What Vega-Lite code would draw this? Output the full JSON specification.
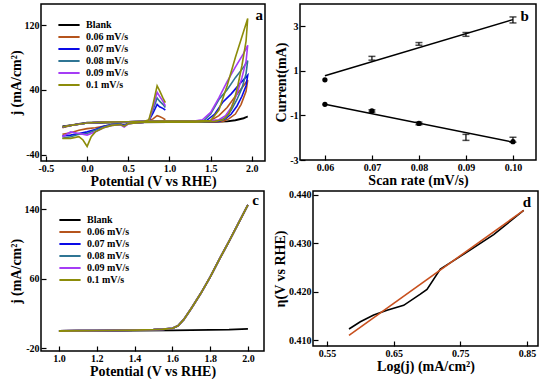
{
  "$schema": "https://vega.github.io/schema/vega-lite/v6.json",
  "background": "white",
  "padding": {"left": 8, "top": 3, "right": 3, "bottom": 0},
  "config": {
    "font": "Liberation Serif",
    "view": {"stroke": "#000", "strokeWidth": 1.5},
    "axis": {
      "labelFont": "Liberation Serif", "labelFontSize": 10, "labelFontWeight": "bold", "labelColor": "#000",
      "titleFont": "Liberation Serif", "titleFontSize": 14, "titleFontWeight": "bold", "titleColor": "#000",
      "domain": false, "tickColor": "#000", "tickWidth": 1.2, "grid": false, "labelPadding": 7, "titlePadding": 1,
      "labelFlush": false, "labelOverlap": false
    },
    "legend": {
      "labelFont": "Liberation Serif", "labelFontSize": 10, "labelFontWeight": "bold", "labelColor": "#000",
      "symbolType": "M-3,0H3", "symbolSize": 50, "symbolStrokeWidth": 2, "labelOffset": 12, "rowPadding": 2
    }
  },
  "datasets": {
    "cv": [
      {"s":"Blank","g":"B","o":1,"x":-0.3,"y":-6},{"s":"Blank","g":"B","o":2,"x":-0.2,"y":-4},{"s":"Blank","g":"B","o":3,"x":-0.1,"y":-2},{"s":"Blank","g":"B","o":4,"x":0,"y":-0.5},{"s":"Blank","g":"B","o":5,"x":0.5,"y":0},{"s":"Blank","g":"B","o":6,"x":1,"y":0},{"s":"Blank","g":"B","o":7,"x":1.5,"y":0.3},{"s":"Blank","g":"B","o":8,"x":1.6,"y":0.5},{"s":"Blank","g":"B","o":9,"x":1.7,"y":1},{"s":"Blank","g":"B","o":10,"x":1.8,"y":2},{"s":"Blank","g":"B","o":11,"x":1.9,"y":4.5},{"s":"Blank","g":"B","o":12,"x":1.95,"y":7},{"s":"Blank","g":"B","o":13,"x":1.9,"y":5},{"s":"Blank","g":"B","o":14,"x":1.8,"y":2.5},{"s":"Blank","g":"B","o":15,"x":1.7,"y":1},{"s":"Blank","g":"B","o":16,"x":1.5,"y":0.3},{"s":"Blank","g":"B","o":17,"x":1,"y":0},{"s":"Blank","g":"B","o":18,"x":0.5,"y":-0.3},{"s":"Blank","g":"B","o":19,"x":0,"y":-1},{"s":"Blank","g":"B","o":20,"x":-0.3,"y":-5},

      {"s":"0.06 mV/s","g":"06m","o":1,"x":-0.3,"y":-7},{"s":"0.06 mV/s","g":"06m","o":2,"x":-0.2,"y":-4},{"s":"0.06 mV/s","g":"06m","o":3,"x":-0.1,"y":-2.5},{"s":"0.06 mV/s","g":"06m","o":4,"x":0,"y":-1},{"s":"0.06 mV/s","g":"06m","o":5,"x":0.2,"y":0},{"s":"0.06 mV/s","g":"06m","o":6,"x":0.5,"y":0.5},{"s":"0.06 mV/s","g":"06m","o":7,"x":0.7,"y":1},{"s":"0.06 mV/s","g":"06m","o":8,"x":0.9,"y":1.5},{"s":"0.06 mV/s","g":"06m","o":9,"x":1.1,"y":1.5},{"s":"0.06 mV/s","g":"06m","o":10,"x":1.3,"y":1.5},{"s":"0.06 mV/s","g":"06m","o":11,"x":1.5,"y":2},{"s":"0.06 mV/s","g":"06m","o":12,"x":1.6,"y":8},{"s":"0.06 mV/s","g":"06m","o":13,"x":1.7,"y":18},{"s":"0.06 mV/s","g":"06m","o":14,"x":1.8,"y":32},{"s":"0.06 mV/s","g":"06m","o":15,"x":1.9,"y":45},{"s":"0.06 mV/s","g":"06m","o":16,"x":1.95,"y":52},{"s":"0.06 mV/s","g":"06m","o":17,"x":1.93,"y":38},{"s":"0.06 mV/s","g":"06m","o":18,"x":1.87,"y":22},{"s":"0.06 mV/s","g":"06m","o":19,"x":1.8,"y":10},{"s":"0.06 mV/s","g":"06m","o":20,"x":1.72,"y":4},{"s":"0.06 mV/s","g":"06m","o":21,"x":1.65,"y":1},{"s":"0.06 mV/s","g":"06m","o":22,"x":1.5,"y":0},{"s":"0.06 mV/s","g":"06m","o":23,"x":1.3,"y":0},{"s":"0.06 mV/s","g":"06m","o":24,"x":1,"y":0},{"s":"0.06 mV/s","g":"06m","o":25,"x":0.7,"y":0},{"s":"0.06 mV/s","g":"06m","o":26,"x":0.6,"y":-1},{"s":"0.06 mV/s","g":"06m","o":27,"x":0.5,"y":-1.5},{"s":"0.06 mV/s","g":"06m","o":28,"x":0.45,"y":-4},{"s":"0.06 mV/s","g":"06m","o":29,"x":0.4,"y":-2.5},{"s":"0.06 mV/s","g":"06m","o":30,"x":0.3,"y":-3},{"s":"0.06 mV/s","g":"06m","o":31,"x":0.2,"y":-5},{"s":"0.06 mV/s","g":"06m","o":32,"x":0.1,"y":-7},{"s":"0.06 mV/s","g":"06m","o":33,"x":0,"y":-8},{"s":"0.06 mV/s","g":"06m","o":34,"x":-0.1,"y":-10},{"s":"0.06 mV/s","g":"06m","o":35,"x":-0.2,"y":-13},{"s":"0.06 mV/s","g":"06m","o":36,"x":-0.3,"y":-15},
      {"s":"0.06 mV/s","g":"06p","o":1,"x":0.7,"y":1},{"s":"0.06 mV/s","g":"06p","o":2,"x":0.75,"y":2},{"s":"0.06 mV/s","g":"06p","o":3,"x":0.8,"y":4},{"s":"0.06 mV/s","g":"06p","o":4,"x":0.85,"y":8},{"s":"0.06 mV/s","g":"06p","o":5,"x":0.88,"y":7},{"s":"0.06 mV/s","g":"06p","o":6,"x":0.92,"y":5},{"s":"0.06 mV/s","g":"06p","o":7,"x":0.95,"y":3},

      {"s":"0.07 mV/s","g":"07m","o":1,"x":-0.3,"y":-6},{"s":"0.07 mV/s","g":"07m","o":2,"x":-0.2,"y":-4},{"s":"0.07 mV/s","g":"07m","o":3,"x":-0.1,"y":-2.5},{"s":"0.07 mV/s","g":"07m","o":4,"x":0,"y":-1},{"s":"0.07 mV/s","g":"07m","o":5,"x":0.2,"y":0},{"s":"0.07 mV/s","g":"07m","o":6,"x":0.5,"y":0.5},{"s":"0.07 mV/s","g":"07m","o":7,"x":0.7,"y":1},{"s":"0.07 mV/s","g":"07m","o":8,"x":0.9,"y":1.5},{"s":"0.07 mV/s","g":"07m","o":9,"x":1.1,"y":1.5},{"s":"0.07 mV/s","g":"07m","o":10,"x":1.3,"y":1.5},{"s":"0.07 mV/s","g":"07m","o":11,"x":1.45,"y":2},{"s":"0.07 mV/s","g":"07m","o":12,"x":1.55,"y":10},{"s":"0.07 mV/s","g":"07m","o":13,"x":1.65,"y":25},{"s":"0.07 mV/s","g":"07m","o":14,"x":1.75,"y":35},{"s":"0.07 mV/s","g":"07m","o":15,"x":1.85,"y":47},{"s":"0.07 mV/s","g":"07m","o":16,"x":1.95,"y":58},{"s":"0.07 mV/s","g":"07m","o":17,"x":1.93,"y":45},{"s":"0.07 mV/s","g":"07m","o":18,"x":1.88,"y":32},{"s":"0.07 mV/s","g":"07m","o":19,"x":1.82,"y":20},{"s":"0.07 mV/s","g":"07m","o":20,"x":1.75,"y":10},{"s":"0.07 mV/s","g":"07m","o":21,"x":1.68,"y":4},{"s":"0.07 mV/s","g":"07m","o":22,"x":1.6,"y":1},{"s":"0.07 mV/s","g":"07m","o":23,"x":1.3,"y":0},{"s":"0.07 mV/s","g":"07m","o":24,"x":1,"y":0},{"s":"0.07 mV/s","g":"07m","o":25,"x":0.7,"y":0},{"s":"0.07 mV/s","g":"07m","o":26,"x":0.6,"y":-1},{"s":"0.07 mV/s","g":"07m","o":27,"x":0.5,"y":-1.5},{"s":"0.07 mV/s","g":"07m","o":28,"x":0.45,"y":-4},{"s":"0.07 mV/s","g":"07m","o":29,"x":0.4,"y":-2.5},{"s":"0.07 mV/s","g":"07m","o":30,"x":0.3,"y":-3},{"s":"0.07 mV/s","g":"07m","o":31,"x":0.2,"y":-5},{"s":"0.07 mV/s","g":"07m","o":32,"x":0.1,"y":-9},{"s":"0.07 mV/s","g":"07m","o":33,"x":0,"y":-12},{"s":"0.07 mV/s","g":"07m","o":34,"x":-0.1,"y":-14},{"s":"0.07 mV/s","g":"07m","o":35,"x":-0.2,"y":-16},{"s":"0.07 mV/s","g":"07m","o":36,"x":-0.3,"y":-17},
      {"s":"0.07 mV/s","g":"07p","o":1,"x":0.7,"y":1},{"s":"0.07 mV/s","g":"07p","o":2,"x":0.75,"y":2},{"s":"0.07 mV/s","g":"07p","o":3,"x":0.8,"y":11},{"s":"0.07 mV/s","g":"07p","o":4,"x":0.85,"y":22},{"s":"0.07 mV/s","g":"07p","o":5,"x":0.88,"y":19},{"s":"0.07 mV/s","g":"07p","o":6,"x":0.92,"y":17},{"s":"0.07 mV/s","g":"07p","o":7,"x":0.95,"y":15},

      {"s":"0.08 mV/s","g":"08m","o":1,"x":-0.3,"y":-6},{"s":"0.08 mV/s","g":"08m","o":2,"x":-0.2,"y":-4},{"s":"0.08 mV/s","g":"08m","o":3,"x":-0.1,"y":-2.5},{"s":"0.08 mV/s","g":"08m","o":4,"x":0,"y":-1},{"s":"0.08 mV/s","g":"08m","o":5,"x":0.2,"y":0},{"s":"0.08 mV/s","g":"08m","o":6,"x":0.5,"y":0.5},{"s":"0.08 mV/s","g":"08m","o":7,"x":0.7,"y":1},{"s":"0.08 mV/s","g":"08m","o":8,"x":0.9,"y":1.5},{"s":"0.08 mV/s","g":"08m","o":9,"x":1.1,"y":1.5},{"s":"0.08 mV/s","g":"08m","o":10,"x":1.3,"y":1.5},{"s":"0.08 mV/s","g":"08m","o":11,"x":1.42,"y":2},{"s":"0.08 mV/s","g":"08m","o":12,"x":1.5,"y":10},{"s":"0.08 mV/s","g":"08m","o":13,"x":1.6,"y":28},{"s":"0.08 mV/s","g":"08m","o":14,"x":1.7,"y":40},{"s":"0.08 mV/s","g":"08m","o":15,"x":1.8,"y":55},{"s":"0.08 mV/s","g":"08m","o":16,"x":1.9,"y":68},{"s":"0.08 mV/s","g":"08m","o":17,"x":1.95,"y":76},{"s":"0.08 mV/s","g":"08m","o":18,"x":1.93,"y":60},{"s":"0.08 mV/s","g":"08m","o":19,"x":1.88,"y":42},{"s":"0.08 mV/s","g":"08m","o":20,"x":1.82,"y":28},{"s":"0.08 mV/s","g":"08m","o":21,"x":1.75,"y":15},{"s":"0.08 mV/s","g":"08m","o":22,"x":1.68,"y":5},{"s":"0.08 mV/s","g":"08m","o":23,"x":1.6,"y":2},{"s":"0.08 mV/s","g":"08m","o":24,"x":1.3,"y":0},{"s":"0.08 mV/s","g":"08m","o":25,"x":1,"y":0},{"s":"0.08 mV/s","g":"08m","o":26,"x":0.7,"y":0},{"s":"0.08 mV/s","g":"08m","o":27,"x":0.6,"y":-1},{"s":"0.08 mV/s","g":"08m","o":28,"x":0.5,"y":-1.5},{"s":"0.08 mV/s","g":"08m","o":29,"x":0.45,"y":-5},{"s":"0.08 mV/s","g":"08m","o":30,"x":0.4,"y":-2.5},{"s":"0.08 mV/s","g":"08m","o":31,"x":0.3,"y":-3},{"s":"0.08 mV/s","g":"08m","o":32,"x":0.2,"y":-6},{"s":"0.08 mV/s","g":"08m","o":33,"x":0.1,"y":-10},{"s":"0.08 mV/s","g":"08m","o":34,"x":0,"y":-14},{"s":"0.08 mV/s","g":"08m","o":35,"x":-0.1,"y":-15},{"s":"0.08 mV/s","g":"08m","o":36,"x":-0.2,"y":-18},{"s":"0.08 mV/s","g":"08m","o":37,"x":-0.3,"y":-20},
      {"s":"0.08 mV/s","g":"08p","o":1,"x":0.7,"y":1},{"s":"0.08 mV/s","g":"08p","o":2,"x":0.75,"y":2},{"s":"0.08 mV/s","g":"08p","o":3,"x":0.8,"y":15},{"s":"0.08 mV/s","g":"08p","o":4,"x":0.85,"y":30},{"s":"0.08 mV/s","g":"08p","o":5,"x":0.88,"y":26},{"s":"0.08 mV/s","g":"08p","o":6,"x":0.92,"y":22},{"s":"0.08 mV/s","g":"08p","o":7,"x":0.95,"y":18},

      {"s":"0.09 mV/s","g":"09m","o":1,"x":-0.3,"y":-6},{"s":"0.09 mV/s","g":"09m","o":2,"x":-0.2,"y":-4},{"s":"0.09 mV/s","g":"09m","o":3,"x":-0.1,"y":-2.5},{"s":"0.09 mV/s","g":"09m","o":4,"x":0,"y":-1},{"s":"0.09 mV/s","g":"09m","o":5,"x":0.2,"y":0},{"s":"0.09 mV/s","g":"09m","o":6,"x":0.5,"y":0.5},{"s":"0.09 mV/s","g":"09m","o":7,"x":0.7,"y":1},{"s":"0.09 mV/s","g":"09m","o":8,"x":0.9,"y":1.5},{"s":"0.09 mV/s","g":"09m","o":9,"x":1.1,"y":1.5},{"s":"0.09 mV/s","g":"09m","o":10,"x":1.3,"y":1.5},{"s":"0.09 mV/s","g":"09m","o":11,"x":1.4,"y":3},{"s":"0.09 mV/s","g":"09m","o":12,"x":1.5,"y":12},{"s":"0.09 mV/s","g":"09m","o":13,"x":1.6,"y":30},{"s":"0.09 mV/s","g":"09m","o":14,"x":1.7,"y":50},{"s":"0.09 mV/s","g":"09m","o":15,"x":1.8,"y":68},{"s":"0.09 mV/s","g":"09m","o":16,"x":1.9,"y":85},{"s":"0.09 mV/s","g":"09m","o":17,"x":1.95,"y":95},{"s":"0.09 mV/s","g":"09m","o":18,"x":1.93,"y":75},{"s":"0.09 mV/s","g":"09m","o":19,"x":1.88,"y":55},{"s":"0.09 mV/s","g":"09m","o":20,"x":1.82,"y":35},{"s":"0.09 mV/s","g":"09m","o":21,"x":1.75,"y":18},{"s":"0.09 mV/s","g":"09m","o":22,"x":1.68,"y":8},{"s":"0.09 mV/s","g":"09m","o":23,"x":1.6,"y":3},{"s":"0.09 mV/s","g":"09m","o":24,"x":1.3,"y":0},{"s":"0.09 mV/s","g":"09m","o":25,"x":1,"y":0},{"s":"0.09 mV/s","g":"09m","o":26,"x":0.7,"y":0},{"s":"0.09 mV/s","g":"09m","o":27,"x":0.6,"y":-1},{"s":"0.09 mV/s","g":"09m","o":28,"x":0.5,"y":-2},{"s":"0.09 mV/s","g":"09m","o":29,"x":0.45,"y":-6},{"s":"0.09 mV/s","g":"09m","o":30,"x":0.4,"y":-3},{"s":"0.09 mV/s","g":"09m","o":31,"x":0.3,"y":-4},{"s":"0.09 mV/s","g":"09m","o":32,"x":0.2,"y":-7},{"s":"0.09 mV/s","g":"09m","o":33,"x":0.1,"y":-12},{"s":"0.09 mV/s","g":"09m","o":34,"x":0,"y":-16},{"s":"0.09 mV/s","g":"09m","o":35,"x":-0.1,"y":-14},{"s":"0.09 mV/s","g":"09m","o":36,"x":-0.2,"y":-12},{"s":"0.09 mV/s","g":"09m","o":37,"x":-0.3,"y":-18},
      {"s":"0.09 mV/s","g":"09p","o":1,"x":0.7,"y":1},{"s":"0.09 mV/s","g":"09p","o":2,"x":0.75,"y":2},{"s":"0.09 mV/s","g":"09p","o":3,"x":0.8,"y":18},{"s":"0.09 mV/s","g":"09p","o":4,"x":0.85,"y":37},{"s":"0.09 mV/s","g":"09p","o":5,"x":0.88,"y":32},{"s":"0.09 mV/s","g":"09p","o":6,"x":0.92,"y":26},{"s":"0.09 mV/s","g":"09p","o":7,"x":0.95,"y":20},

      {"s":"0.1 mV/s","g":"10m","o":1,"x":-0.3,"y":-6},{"s":"0.1 mV/s","g":"10m","o":2,"x":-0.2,"y":-4},{"s":"0.1 mV/s","g":"10m","o":3,"x":-0.1,"y":-2.5},{"s":"0.1 mV/s","g":"10m","o":4,"x":0,"y":-1},{"s":"0.1 mV/s","g":"10m","o":5,"x":0.2,"y":0},{"s":"0.1 mV/s","g":"10m","o":6,"x":0.5,"y":0.5},{"s":"0.1 mV/s","g":"10m","o":7,"x":0.7,"y":1},{"s":"0.1 mV/s","g":"10m","o":8,"x":0.9,"y":1.5},{"s":"0.1 mV/s","g":"10m","o":9,"x":1.1,"y":1.5},{"s":"0.1 mV/s","g":"10m","o":10,"x":1.3,"y":1.5},{"s":"0.1 mV/s","g":"10m","o":11,"x":1.5,"y":2},{"s":"0.1 mV/s","g":"10m","o":12,"x":1.6,"y":15},{"s":"0.1 mV/s","g":"10m","o":13,"x":1.7,"y":45},{"s":"0.1 mV/s","g":"10m","o":14,"x":1.8,"y":80},{"s":"0.1 mV/s","g":"10m","o":15,"x":1.9,"y":112},{"s":"0.1 mV/s","g":"10m","o":16,"x":1.95,"y":128},{"s":"0.1 mV/s","g":"10m","o":17,"x":1.93,"y":100},{"s":"0.1 mV/s","g":"10m","o":18,"x":1.88,"y":70},{"s":"0.1 mV/s","g":"10m","o":19,"x":1.83,"y":45},{"s":"0.1 mV/s","g":"10m","o":20,"x":1.78,"y":25},{"s":"0.1 mV/s","g":"10m","o":21,"x":1.72,"y":10},{"s":"0.1 mV/s","g":"10m","o":22,"x":1.65,"y":3},{"s":"0.1 mV/s","g":"10m","o":23,"x":1.55,"y":1},{"s":"0.1 mV/s","g":"10m","o":24,"x":1.3,"y":0},{"s":"0.1 mV/s","g":"10m","o":25,"x":1,"y":0},{"s":"0.1 mV/s","g":"10m","o":26,"x":0.7,"y":0},{"s":"0.1 mV/s","g":"10m","o":27,"x":0.6,"y":-1},{"s":"0.1 mV/s","g":"10m","o":28,"x":0.5,"y":-2},{"s":"0.1 mV/s","g":"10m","o":29,"x":0.45,"y":-5},{"s":"0.1 mV/s","g":"10m","o":30,"x":0.4,"y":-3},{"s":"0.1 mV/s","g":"10m","o":31,"x":0.3,"y":-4},{"s":"0.1 mV/s","g":"10m","o":32,"x":0.2,"y":-7},{"s":"0.1 mV/s","g":"10m","o":33,"x":0.1,"y":-12},{"s":"0.1 mV/s","g":"10m","o":34,"x":0.05,"y":-18},{"s":"0.1 mV/s","g":"10m","o":35,"x":0,"y":-30},{"s":"0.1 mV/s","g":"10m","o":36,"x":-0.05,"y":-22},{"s":"0.1 mV/s","g":"10m","o":37,"x":-0.1,"y":-18},{"s":"0.1 mV/s","g":"10m","o":38,"x":-0.2,"y":-20},{"s":"0.1 mV/s","g":"10m","o":39,"x":-0.3,"y":-20},
      {"s":"0.1 mV/s","g":"10p","o":1,"x":0.7,"y":1},{"s":"0.1 mV/s","g":"10p","o":2,"x":0.75,"y":3},{"s":"0.1 mV/s","g":"10p","o":3,"x":0.8,"y":22},{"s":"0.1 mV/s","g":"10p","o":4,"x":0.85,"y":45},{"s":"0.1 mV/s","g":"10p","o":5,"x":0.88,"y":39},{"s":"0.1 mV/s","g":"10p","o":6,"x":0.92,"y":30},{"s":"0.1 mV/s","g":"10p","o":7,"x":0.95,"y":24}
    ],
    "bfit": [
      {"grp":"anodic","x":0.06,"y":0.78},{"grp":"anodic","x":0.10,"y":3.3},
      {"grp":"cathodic","x":0.06,"y":-0.5},{"grp":"cathodic","x":0.10,"y":-2.2}
    ],
    "berr": [
      {"x":0.07,"lo":1.48,"hi":1.65},{"x":0.08,"lo":2.15,"hi":2.27},{"x":0.09,"lo":2.55,"hi":2.72},{"x":0.10,"lo":3.15,"hi":3.42},
      {"x":0.07,"lo":-0.85,"hi":-0.75},{"x":0.08,"lo":-1.42,"hi":-1.3},{"x":0.09,"lo":-2.12,"hi":-1.85},{"x":0.10,"lo":-2.2,"hi":-1.98}
    ],
    "bpts": [
      {"x":0.06,"y":0.6},{"x":0.06,"y":-0.5},{"x":0.07,"y":-0.8},{"x":0.08,"y":-1.36},{"x":0.10,"y":-2.18}
    ],
    "lsv": [
      {"s":"Blank","x":1.0,"y":0},{"s":"Blank","x":1.2,"y":0.3},{"s":"Blank","x":1.4,"y":0.5},{"s":"Blank","x":1.6,"y":0.8},{"s":"Blank","x":1.8,"y":1.2},{"s":"Blank","x":1.9,"y":1.6},{"s":"Blank","x":2.0,"y":2.5},
      {"s":"0.06 mV/s","x":1.0,"y":0},{"s":"0.06 mV/s","x":1.1,"y":0.3},{"s":"0.06 mV/s","x":1.2,"y":0.5},{"s":"0.06 mV/s","x":1.3,"y":0.8},{"s":"0.06 mV/s","x":1.4,"y":1},{"s":"0.06 mV/s","x":1.5,"y":1.5},{"s":"0.06 mV/s","x":1.55,"y":2},{"s":"0.06 mV/s","x":1.6,"y":3},{"s":"0.06 mV/s","x":1.63,"y":6},{"s":"0.06 mV/s","x":1.66,"y":13},{"s":"0.06 mV/s","x":1.7,"y":26},{"s":"0.06 mV/s","x":1.75,"y":43},{"s":"0.06 mV/s","x":1.8,"y":62},{"s":"0.06 mV/s","x":1.85,"y":83},{"s":"0.06 mV/s","x":1.9,"y":103},{"s":"0.06 mV/s","x":1.95,"y":124},{"s":"0.06 mV/s","x":2.0,"y":145},
      {"s":"0.07 mV/s","x":1.0,"y":0},{"s":"0.07 mV/s","x":1.1,"y":0.3},{"s":"0.07 mV/s","x":1.2,"y":0.5},{"s":"0.07 mV/s","x":1.3,"y":0.8},{"s":"0.07 mV/s","x":1.4,"y":1},{"s":"0.07 mV/s","x":1.5,"y":1.5},{"s":"0.07 mV/s","x":1.55,"y":2},{"s":"0.07 mV/s","x":1.6,"y":3},{"s":"0.07 mV/s","x":1.63,"y":6},{"s":"0.07 mV/s","x":1.66,"y":13},{"s":"0.07 mV/s","x":1.7,"y":26},{"s":"0.07 mV/s","x":1.75,"y":43},{"s":"0.07 mV/s","x":1.8,"y":62},{"s":"0.07 mV/s","x":1.85,"y":83},{"s":"0.07 mV/s","x":1.9,"y":103},{"s":"0.07 mV/s","x":1.95,"y":124},{"s":"0.07 mV/s","x":2.0,"y":145},
      {"s":"0.08 mV/s","x":1.0,"y":0},{"s":"0.08 mV/s","x":1.1,"y":0.3},{"s":"0.08 mV/s","x":1.2,"y":0.5},{"s":"0.08 mV/s","x":1.3,"y":0.8},{"s":"0.08 mV/s","x":1.4,"y":1},{"s":"0.08 mV/s","x":1.5,"y":1.5},{"s":"0.08 mV/s","x":1.55,"y":2},{"s":"0.08 mV/s","x":1.6,"y":3},{"s":"0.08 mV/s","x":1.63,"y":6},{"s":"0.08 mV/s","x":1.66,"y":13},{"s":"0.08 mV/s","x":1.7,"y":26},{"s":"0.08 mV/s","x":1.75,"y":43},{"s":"0.08 mV/s","x":1.8,"y":62},{"s":"0.08 mV/s","x":1.85,"y":83},{"s":"0.08 mV/s","x":1.9,"y":103},{"s":"0.08 mV/s","x":1.95,"y":124},{"s":"0.08 mV/s","x":2.0,"y":145},
      {"s":"0.09 mV/s","x":1.0,"y":0},{"s":"0.09 mV/s","x":1.1,"y":0.3},{"s":"0.09 mV/s","x":1.2,"y":0.5},{"s":"0.09 mV/s","x":1.3,"y":0.8},{"s":"0.09 mV/s","x":1.4,"y":1},{"s":"0.09 mV/s","x":1.5,"y":1.5},{"s":"0.09 mV/s","x":1.55,"y":2},{"s":"0.09 mV/s","x":1.6,"y":3},{"s":"0.09 mV/s","x":1.63,"y":6},{"s":"0.09 mV/s","x":1.66,"y":13},{"s":"0.09 mV/s","x":1.7,"y":26},{"s":"0.09 mV/s","x":1.75,"y":43},{"s":"0.09 mV/s","x":1.8,"y":62},{"s":"0.09 mV/s","x":1.85,"y":83},{"s":"0.09 mV/s","x":1.9,"y":103},{"s":"0.09 mV/s","x":1.95,"y":124},{"s":"0.09 mV/s","x":2.0,"y":145},
      {"s":"0.1 mV/s","x":1.0,"y":0},{"s":"0.1 mV/s","x":1.1,"y":0.3},{"s":"0.1 mV/s","x":1.2,"y":0.5},{"s":"0.1 mV/s","x":1.3,"y":0.8},{"s":"0.1 mV/s","x":1.4,"y":1},{"s":"0.1 mV/s","x":1.5,"y":1.5},{"s":"0.1 mV/s","x":1.55,"y":2},{"s":"0.1 mV/s","x":1.6,"y":3},{"s":"0.1 mV/s","x":1.63,"y":6},{"s":"0.1 mV/s","x":1.66,"y":13},{"s":"0.1 mV/s","x":1.7,"y":26},{"s":"0.1 mV/s","x":1.75,"y":43},{"s":"0.1 mV/s","x":1.8,"y":62},{"s":"0.1 mV/s","x":1.85,"y":83},{"s":"0.1 mV/s","x":1.9,"y":103},{"s":"0.1 mV/s","x":1.95,"y":124},{"s":"0.1 mV/s","x":2.0,"y":145}
    ],
    "tafel": [
      {"x":0.583,"y":0.4123},{"x":0.60,"y":0.4138},{"x":0.62,"y":0.4152},{"x":0.64,"y":0.4162},{"x":0.665,"y":0.4172},{"x":0.69,"y":0.4195},{"x":0.70,"y":0.4205},{"x":0.72,"y":0.4247},{"x":0.75,"y":0.4273},{"x":0.80,"y":0.4318},{"x":0.845,"y":0.4368}
    ],
    "tafelfit": [
      {"x":0.583,"y":0.4110},{"x":0.845,"y":0.4368}
    ]
  },
  "spacing": 0,
  "resolve": {"scale": {"color": "independent"}},
  "vconcat": [
    {
      "spacing": 7,
      "resolve": {"scale": {"color": "independent"}},
      "hconcat": [
        {
          "width": 224, "height": 157,
          "layer": [
            {
              "data": {"name": "cv"},
              "mark": {"type": "line", "strokeWidth": 1.6},
              "encoding": {
                "x": {"field": "x", "type": "quantitative",
                  "scale": {"domain": [-0.56, 2.16], "nice": false, "zero": false},
                  "axis": {"title": "Potential (V vs RHE)", "labelOverlap": false, "values": [-0.5,-0.25,0,0.25,0.5,0.75,1,1.25,1.5,1.75,2],
                    "labelExpr": "round(datum.value*4)%2 ? '' : (datum.value<0?'-':'') + format(abs(datum.value),'.1f')",
                    "tickSize": {"condition": {"test": "round(datum.value*4)%2", "value": -2.5}, "value": -5}}},
                "y": {"field": "y", "type": "quantitative",
                  "scale": {"domain": [-48, 146], "nice": false, "zero": false},
                  "axis": {"title": "j (mA/cm²)", "labelOverlap": false, "values": [-40,-30,-20,-10,0,10,20,30,40,50,60,70,80,90,100,110,120,130,140],
                    "labelExpr": "datum.value%20 ? '' : (datum.value<0?'-':'') + abs(datum.value)",
                    "tickSize": {"condition": {"test": "datum.value%20", "value": -2.5}, "value": -5}}},
                "color": {"field": "s", "type": "nominal",
                  "scale": {"domain": ["Blank","0.06 mV/s","0.07 mV/s","0.08 mV/s","0.09 mV/s","0.1 mV/s"],
                            "range": ["#000000","#b5541c","#0a0ae6","#2f7594","#a53cf5","#8c8c0a"]},
                  "legend": {"title": null, "orient": "none", "legendX": 23, "legendY": 16}},
                "detail": {"field": "g"},
                "order": {"field": "o", "type": "quantitative"}
              }
            },
            {
              "data": {"values": [{"t": "a", "x": 2.09, "y": 133}]},
              "mark": {"type": "text", "fontSize": 15, "fontWeight": "bold", "font": "Liberation Serif", "color": "#000"},
              "encoding": {"x": {"field": "x", "type": "quantitative", "axis": {"labelOverlap": false}}, "y": {"field": "y", "type": "quantitative", "axis": {"labelOverlap": false}}, "text": {"field": "t"}}
            }
          ]
        },
        {
          "width": 236, "height": 156,
          "layer": [
            {
              "data": {"name": "bfit"},
              "mark": {"type": "line", "color": "#000", "strokeWidth": 1.5},
              "encoding": {
                "x": {"field": "x", "type": "quantitative",
                  "scale": {"domain": [0.0547, 0.1049], "nice": false, "zero": false},
                  "axis": {"title": "Scan rate (mV/s)", "labelOverlap": false, "values": [0.06,0.065,0.07,0.075,0.08,0.085,0.09,0.095,0.1],
                    "labelExpr": "round(datum.value*200)%2 ? '' : format(datum.value,'.2f')",
                    "tickSize": {"condition": {"test": "round(datum.value*200)%2", "value": -2.5}, "value": -5}}},
                "y": {"field": "y", "type": "quantitative",
                  "scale": {"domain": [-3, 4], "nice": false, "zero": false},
                  "axis": {"title": "Current(mA)", "labelOverlap": false, "values": [-3,-2.5,-2,-1.5,-1,-0.5,0,0.5,1,1.5,2,2.5,3,3.5,4],
                    "labelExpr": "round(datum.value*2)%2 ? '' : (datum.value<0?'-':'') + abs(datum.value)",
                    "tickSize": {"condition": {"test": "round(datum.value*2)%2", "value": -2.5}, "value": -5}}},
                "detail": {"field": "grp"}
              }
            },
            {
              "data": {"name": "berr"},
              "mark": {"type": "rule", "color": "#000", "strokeWidth": 1.2},
              "encoding": {"x": {"field": "x", "type": "quantitative", "axis": {"labelOverlap": false}}, "y": {"field": "lo", "type": "quantitative", "axis": {"labelOverlap": false}}, "y2": {"field": "hi"}}
            },
            {
              "data": {"name": "berr"},
              "mark": {"type": "tick", "orient": "horizontal", "color": "#000", "size": 7, "thickness": 1.5},
              "encoding": {"x": {"field": "x", "type": "quantitative", "axis": {"labelOverlap": false}}, "y": {"field": "lo", "type": "quantitative", "axis": {"labelOverlap": false}}}
            },
            {
              "data": {"name": "berr"},
              "mark": {"type": "tick", "orient": "horizontal", "color": "#000", "size": 7, "thickness": 1.5},
              "encoding": {"x": {"field": "x", "type": "quantitative", "axis": {"labelOverlap": false}}, "y": {"field": "hi", "type": "quantitative", "axis": {"labelOverlap": false}}}
            },
            {
              "data": {"name": "bpts"},
              "mark": {"type": "circle", "color": "#000", "size": 28, "opacity": 1},
              "encoding": {"x": {"field": "x", "type": "quantitative", "axis": {"labelOverlap": false}}, "y": {"field": "y", "type": "quantitative", "axis": {"labelOverlap": false}}}
            },
            {
              "data": {"values": [{"t": "b", "x": 0.1025, "y": 3.45}]},
              "mark": {"type": "text", "fontSize": 15, "fontWeight": "bold", "font": "Liberation Serif", "color": "#000"},
              "encoding": {"x": {"field": "x", "type": "quantitative", "axis": {"labelOverlap": false}}, "y": {"field": "y", "type": "quantitative", "axis": {"labelOverlap": false}}, "text": {"field": "t"}}
            }
          ]
        }
      ]
    },
    {
      "spacing": 7,
      "resolve": {"scale": {"color": "independent"}},
      "hconcat": [
        {
          "width": 223, "height": 160,
          "layer": [
            {
              "data": {"name": "lsv"},
              "mark": {"type": "line", "strokeWidth": 1.8},
              "encoding": {
                "x": {"field": "x", "type": "quantitative",
                  "scale": {"domain": [0.905, 2.085], "nice": false, "zero": false},
                  "axis": {"title": "Potential (V vs RHE)", "labelOverlap": false, "values": [1.0,1.1,1.2,1.3,1.4,1.5,1.6,1.7,1.8,1.9,2.0],
                    "labelExpr": "round(datum.value*10)%2 ? '' : format(datum.value,'.1f')",
                    "tickSize": {"condition": {"test": "round(datum.value*10)%2", "value": -2.5}, "value": -5}}},
                "y": {"field": "y", "type": "quantitative",
                  "scale": {"domain": [-23, 161], "nice": false, "zero": false},
                  "axis": {"title": "j (mA/cm²)", "labelOverlap": false, "values": [-20,-10,0,10,20,30,40,50,60,70,80,90,100,110,120,130,140,150,160],
                    "labelExpr": "datum.value%20 ? '' : (datum.value<0?'-':'') + abs(datum.value)",
                    "tickSize": {"condition": {"test": "datum.value%20", "value": -2.5}, "value": -5}}},
                "color": {"field": "s", "type": "nominal",
                  "scale": {"domain": ["Blank","0.06 mV/s","0.07 mV/s","0.08 mV/s","0.09 mV/s","0.1 mV/s"],
                            "range": ["#000000","#b5541c","#0a0ae6","#2f7594","#a53cf5","#8c8c0a"]},
                  "legend": {"title": null, "orient": "none", "legendX": 24, "legendY": 24}}
              }
            },
            {
              "data": {"values": [{"t": "c", "x": 2.04, "y": 151}]},
              "mark": {"type": "text", "fontSize": 15, "fontWeight": "bold", "font": "Liberation Serif", "color": "#000"},
              "encoding": {"x": {"field": "x", "type": "quantitative", "axis": {"labelOverlap": false}}, "y": {"field": "y", "type": "quantitative", "axis": {"labelOverlap": false}}, "text": {"field": "t"}}
            }
          ]
        },
        {
          "width": 225, "height": 155,
          "layer": [
            {
              "data": {"name": "tafel"},
              "mark": {"type": "line", "color": "#000", "strokeWidth": 1.6},
              "encoding": {
                "x": {"field": "x", "type": "quantitative",
                  "scale": {"domain": [0.529, 0.8665], "nice": false, "zero": false},
                  "axis": {"title": "Log(j) (mA/cm²)", "labelOverlap": false, "values": [0.55,0.575,0.6,0.625,0.65,0.675,0.7,0.725,0.75,0.775,0.8,0.825,0.85],
                    "labelExpr": "round(datum.value*40)%2 ? '' : format(datum.value,'.2f')",
                    "tickSize": {"condition": {"test": "round(datum.value*40)%2", "value": -2.5}, "value": -5}}},
                "y": {"field": "y", "type": "quantitative",
                  "scale": {"domain": [0.4088, 0.4408], "nice": false, "zero": false},
                  "axis": {"title": "η(V vs RHE)", "labelOverlap": false, "values": [0.41,0.4125,0.415,0.4175,0.42,0.4225,0.425,0.4275,0.43,0.4325,0.435,0.4375,0.44],
                    "labelExpr": "round(datum.value*400)%2 ? '' : format(datum.value,'.3f')",
                    "tickSize": {"condition": {"test": "round(datum.value*400)%2", "value": -2.5}, "value": -5}}}
              }
            },
            {
              "data": {"name": "tafelfit"},
              "mark": {"type": "line", "color": "#c8501e", "strokeWidth": 1.6},
              "encoding": {"x": {"field": "x", "type": "quantitative", "axis": {"labelOverlap": false}}, "y": {"field": "y", "type": "quantitative", "axis": {"labelOverlap": false}}}
            },
            {
              "data": {"values": [{"t": "d", "x": 0.85, "y": 0.4385}]},
              "mark": {"type": "text", "fontSize": 15, "fontWeight": "bold", "font": "Liberation Serif", "color": "#000"},
              "encoding": {"x": {"field": "x", "type": "quantitative", "axis": {"labelOverlap": false}}, "y": {"field": "y", "type": "quantitative", "axis": {"labelOverlap": false}}, "text": {"field": "t"}}
            }
          ]
        }
      ]
    }
  ]
}
